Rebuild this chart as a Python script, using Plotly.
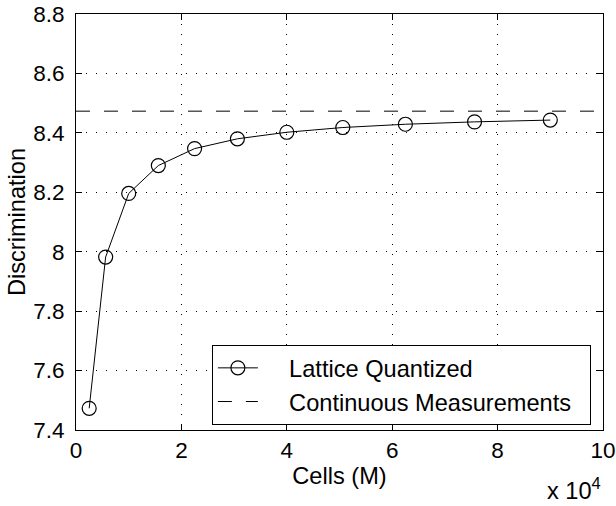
import plotly.graph_objects as go

# Data
cells = [2500, 5625, 10000, 15625, 22500, 30625, 40000, 50625, 62500, 75625, 90000]
lattice = [7.473, 7.982, 8.196, 8.290, 8.347, 8.380, 8.402, 8.418, 8.429, 8.437, 8.443]
continuous_value = 8.473
x_limits = [0, 100000]
y_limits = [7.4, 8.8]
x_tickvals = [0, 20000, 40000, 60000, 80000, 100000]
x_ticktext = ["0", "2", "4", "6", "8", "10"]
y_tickvals = [7.4, 7.6, 7.8, 8.0, 8.2, 8.4, 8.6, 8.8]
y_ticktext = ["7.4", "7.6", "7.8", "8", "8.2", "8.4", "8.6", "8.8"]
series_names = ["\u00a0\u00a0\u00a0\u00a0Lattice Quantized",
                "\u00a0\u00a0\u00a0\u00a0Continuous Measurements\u00a0\u00a0"]

FONT = "Liberation Sans, Arial, Helvetica, sans-serif"
FS = 23.6
TFS = 22.5

fig = go.Figure()
fig.add_trace(go.Scatter(
    x=cells, y=lattice, mode="lines+markers", name=series_names[0],
    line=dict(color="black", width=1),
    marker=dict(symbol="circle-open", size=14, color="black", line=dict(width=1.2, color="black")),
))
fig.add_trace(go.Scatter(
    x=x_limits, y=[continuous_value] * len(x_limits), mode="lines",
    name=series_names[1],
    line=dict(color="black", width=1, dash="14px,14px"),
))

axis_common = dict(
    showline=True, linecolor="black", linewidth=1, mirror="allticks",
    ticks="inside", ticklen=6, tickcolor="black", tickwidth=1,
    showgrid=True, gridcolor="black", gridwidth=1, griddash="1px,9px",
    zeroline=False, automargin=False, ticklabeloverflow="allow",
    tickfont=dict(family=FONT, size=TFS, color="black"),
)
fig.update_xaxes(
    range=x_limits, tickvals=x_tickvals, ticktext=x_ticktext,
    title=dict(text="Cells (M)", font=dict(family=FONT, size=FS, color="black"), standoff=2),
    ticklabelstandoff=0, **axis_common,
)
fig.update_yaxes(
    range=y_limits, tickvals=y_tickvals, ticktext=y_ticktext,
    title=dict(text="Discrimination", font=dict(family=FONT, size=FS, color="black"), standoff=0),
    ticklabelstandoff=6, **axis_common,
)

fig.add_annotation(
    text="x 10<sup>4</sup>", xref="paper", yref="paper", x=1.0, y=-0.1,
    xanchor="right", yanchor="top", showarrow=False,
    font=dict(family=FONT, size=FS, color="black"),
)

fig.update_layout(
    width=616, height=506,
    margin=dict(l=76, r=13, t=14, b=76),
    paper_bgcolor="white", plot_bgcolor="white",
    font=dict(family=FONT, size=FS, color="black"),
    showlegend=True,
    legend=dict(
        x=0.977, y=0.012, xanchor="right", yanchor="bottom",
        bgcolor="white", bordercolor="black", borderwidth=1,
        font=dict(family=FONT, size=FS, color="black"),
        tracegroupgap=0, itemwidth=40,
    ),
)

fig.write_html(
    "out.html",
    config={"displayModeBar": False},
    post_script="document.body.style.margin='0';document.body.style.overflow='hidden';",
)
